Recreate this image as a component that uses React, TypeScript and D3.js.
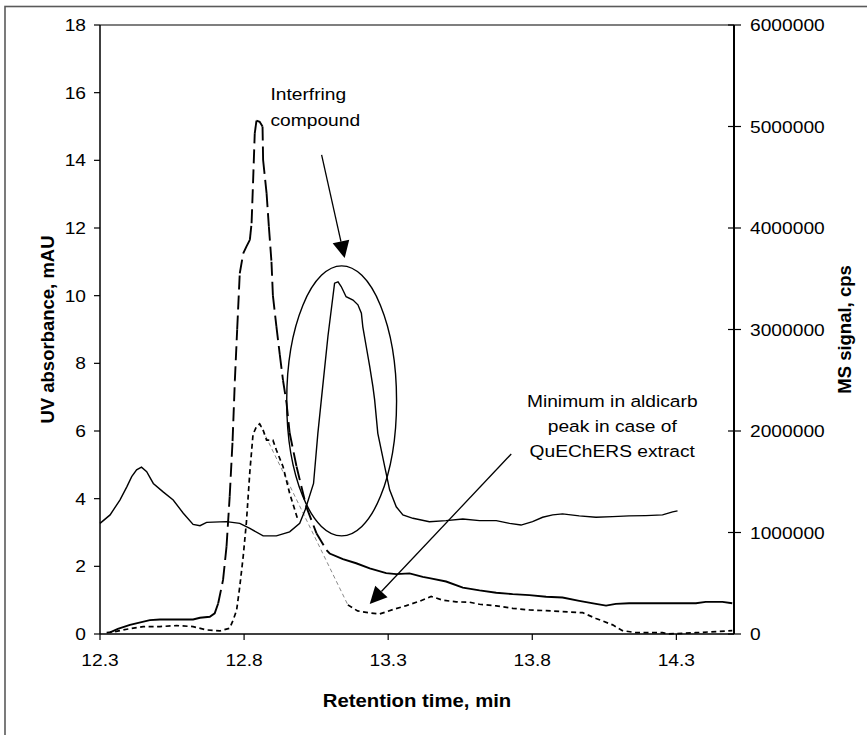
import React from 'react';
import * as d3 from 'd3';

// UV trace (left axis, mAU)
const uvTimes = [12.300, 12.335, 12.369, 12.393, 12.410, 12.427, 12.444, 12.462, 12.485, 12.519, 12.554, 12.589, 12.623, 12.647, 12.670, 12.739, 12.785, 12.820, 12.866, 12.912, 12.958, 12.993, 13.012, 13.041, 13.056, 13.068, 13.091, 13.114, 13.126, 13.137, 13.154, 13.178, 13.195, 13.207, 13.212, 13.224, 13.236, 13.247, 13.253, 13.264, 13.288, 13.305, 13.328, 13.351, 13.386, 13.443, 13.501, 13.559, 13.617, 13.675, 13.721, 13.761, 13.801, 13.836, 13.871, 13.905, 13.963, 14.021, 14.079, 14.136, 14.194, 14.252, 14.287, 14.304];
const uvValues = [3.27, 3.52, 3.96, 4.35, 4.65, 4.85, 4.93, 4.80, 4.45, 4.20, 3.96, 3.57, 3.24, 3.20, 3.30, 3.32, 3.27, 3.12, 2.90, 2.90, 3.02, 3.27, 3.67, 4.45, 5.93, 6.92, 8.80, 10.37, 10.41, 10.27, 9.97, 9.87, 9.73, 9.48, 9.08, 8.49, 7.90, 7.31, 6.92, 5.93, 4.95, 4.26, 3.76, 3.52, 3.42, 3.32, 3.35, 3.40, 3.35, 3.35, 3.27, 3.22, 3.32, 3.45, 3.52, 3.55, 3.49, 3.45, 3.47, 3.49, 3.50, 3.52, 3.61, 3.64];

// MS trace 1 (dashed, right axis, cps)
const msTimes = [12.335, 12.362, 12.404, 12.473, 12.508, 12.623, 12.647, 12.681, 12.698, 12.710, 12.727, 12.739, 12.750, 12.760, 12.768, 12.776, 12.785, 12.797, 12.808, 12.820, 12.826, 12.831, 12.837, 12.843, 12.854, 12.864, 12.866, 12.878, 12.886, 12.895, 12.900, 12.912, 12.924, 12.935, 12.947, 12.958, 12.982, 13.016, 13.051, 13.086, 13.097, 13.143, 13.189, 13.236, 13.293, 13.328, 13.374, 13.420, 13.443, 13.501, 13.559, 13.617, 13.675, 13.732, 13.790, 13.848, 13.905, 13.963, 14.021, 14.056, 14.090, 14.136, 14.252, 14.368, 14.402, 14.460, 14.494];
const msCps = [17000, 50000, 90000, 137000, 143000, 143000, 160000, 170000, 203000, 300000, 533000, 860000, 1353000, 1900000, 2500000, 3000000, 3553000, 3750000, 3817000, 3883000, 4047000, 4440000, 4933000, 5057000, 5047000, 5000000, 4670000, 4343000, 4013000, 3667000, 3333000, 3033000, 2750000, 2500000, 2283000, 1983000, 1650000, 1253000, 993000, 827000, 793000, 737000, 697000, 647000, 600000, 590000, 597000, 563000, 550000, 517000, 457000, 430000, 407000, 393000, 383000, 367000, 360000, 327000, 297000, 280000, 297000, 303000, 303000, 303000, 317000, 317000, 303000];

// MS trace 2 (dotted, right axis, cps) - NaN marks the break
const ms2Times = [12.323, 12.352, 12.393, 12.450, 12.508, 12.566, 12.623, 12.670, 12.716, 12.750, 12.762, 12.774, 12.785, 12.797, 12.808, 12.820, 12.831, 12.843, 12.854, 12.866, 12.878, 12.900, 12.912, 12.935, 12.958, 12.976, 12.987, 13.070, 13.160, 13.194, 13.236, 13.270, 13.316, 13.363, 13.409, 13.449, 13.490, 13.536, 13.582, 13.617, 13.675, 13.732, 13.790, 13.848, 13.905, 13.975, 14.021, 14.079, 14.113, 14.160, 14.252, 14.271, 14.367, 14.494];
const ms2Cps = [13000, 23000, 47000, 73000, 73000, 83000, 73000, 40000, 30000, 57000, 137000, 233000, 467000, 767000, 1100000, 1600000, 1967000, 2043000, 2070000, 2010000, 1910000, 1910000, 1813000, 1650000, 1387000, 1223000, 1123000, NaN, 287000, 227000, 207000, 197000, 240000, 280000, 323000, 370000, 333000, 317000, 313000, 293000, 277000, 253000, 237000, 230000, 220000, 210000, 153000, 90000, 33000, 13000, 13000, 0, 13000, 33000];

// faint grey trace between the dotted maximum and its minimum
const faintTimes = [12.854, 13.160];
const faintCps = [2070000, 287000];

const xTicks = [12.3, 12.8, 13.3, 13.8, 14.3];
const uvTicks = [0, 2, 4, 6, 8, 10, 12, 14, 16, 18];
const msTicks = [0, 1000000, 2000000, 3000000, 4000000, 5000000, 6000000];

const W = 867, H = 735;
const L = 100, R = 734, T = 25, B = 634;
const x = d3.scaleLinear().domain([12.3, 14.5]).range([L, R]);
const yL = d3.scaleLinear().domain([0, 18]).range([B, T]);
const yR = d3.scaleLinear().domain([0, 6000000]).range([B, T]);

const FONT = "'Liberation Sans', Arial, Helvetica, sans-serif";
const SX = 1.13;

function Txt(props: { x: number; y: number; anchor?: string; size?: number; bold?: boolean; children: React.ReactNode }) {
  const { x: px, y: py, anchor = 'start', size = 17, bold = false, children } = props;
  return (
    <text transform={`translate(${px},${py}) scale(${SX},1)`} textAnchor={anchor as any} fontSize={size}
      fontWeight={bold ? 'bold' : 'normal'} fontFamily={FONT} fill="#000">{children}</text>
  );
}

function Arrow(props: { x1: number; y1: number; x2: number; y2: number }) {
  const { x1, y1, x2, y2 } = props;
  const dx = x2 - x1, dy = y2 - y1;
  const len = Math.hypot(dx, dy);
  const ux = dx / len, uy = dy / len;
  const hl = 17, hw = 8.5;
  const bx = x2 - ux * hl, by = y2 - uy * hl;
  const pts = `${x2},${y2} ${bx - uy * hw},${by + ux * hw} ${bx + uy * hw},${by - ux * hw}`;
  return (
    <g>
      <line x1={x1} y1={y1} x2={bx} y2={by} stroke="#000" strokeWidth={1.3} />
      <polygon points={pts} fill="#000" />
    </g>
  );
}

// Build the dashed trace: gentle segments solid, steep segments dashed (pattern restarts each segment)
function dashedSegments(times: number[], vals: number[], ys: d3.ScaleLinear<number, number>) {
  const pts = times.map((t, i) => [x(t), ys(vals[i])] as [number, number]);
  const out: { d: string; dashed: boolean }[] = [];
  let run: [number, number][] = [];
  for (let i = 0; i < pts.length - 1; i++) {
    const [ax, ay] = pts[i], [bx, by] = pts[i + 1];
    const steep = Math.abs(by - ay) > 1.5 * Math.abs(bx - ax) && Math.hypot(bx - ax, by - ay) > 12;
    if (steep) {
      if (run.length > 1) out.push({ d: d3.line()(run) as string, dashed: false });
      run = [];
      out.push({ d: `M${ax},${ay}L${bx},${by}`, dashed: true });
    } else {
      if (run.length === 0) run.push([ax, ay]);
      run.push([bx, by]);
    }
  }
  if (run.length > 1) out.push({ d: d3.line()(run) as string, dashed: false });
  return out;
}

export default function App() {
  const uvLine = d3.line<number>().x((_, i) => x(uvTimes[i])).y((v) => yL(v))(uvValues) as string;
  const ms2Line = d3.line<number>().defined((v) => !isNaN(v)).x((_, i) => x(ms2Times[i])).y((v) => yR(v))(ms2Cps) as string;
  const faintLine = d3.line<number>().x((_, i) => x(faintTimes[i])).y((v) => yR(v))(faintCps) as string;
  const segs = dashedSegments(msTimes, msCps, yR);

  // annotations (data coordinates)
  const ell = { cx: x(13.1385), cy: yL(6.89), rx: x(13.1385 + 0.1906) - x(13.1385), ry: yL(6.89) - yL(6.89 + 3.99) };

  return (
    <svg width={W} height={H} viewBox={`0 0 ${W} ${H}`} style={{ position: 'absolute', left: 0, top: 0, background: '#fff' }}>
      <rect x={0} y={0} width={W} height={H} fill="#fff" />
      {/* outer frame */}
      <rect x={5} y={6.5} width={W + 40} height={H + 40} fill="none" stroke="#5a5a5a" strokeWidth={1.6} />

      {/* plot box */}
      <line x1={L} y1={T} x2={R} y2={T} stroke="#000" strokeWidth={1.2} />
      <line x1={L} y1={T} x2={L} y2={B} stroke="#000" strokeWidth={1.5} />
      <line x1={R} y1={T} x2={R} y2={B} stroke="#000" strokeWidth={2} />
      <line x1={L} y1={B} x2={R} y2={B} stroke="#000" strokeWidth={1.5} />

      {/* left axis */}
      {uvTicks.map((v) => (
        <g key={'l' + v}>
          <line x1={L - 6} x2={L} y1={yL(v)} y2={yL(v)} stroke="#000" strokeWidth={1.2} />
          <Txt x={86} y={yL(v) + 6} anchor="end">{v}</Txt>
        </g>
      ))}
      {/* right axis */}
      {msTicks.map((v) => (
        <g key={'r' + v}>
          <line x1={R - 6} x2={R + 7} y1={yR(v)} y2={yR(v)} stroke="#000" strokeWidth={1.2} />
          <Txt x={750} y={yR(v) + 6}>{String(v)}</Txt>
        </g>
      ))}
      {/* bottom axis */}
      {xTicks.map((t) => (
        <g key={'b' + t}>
          <line x1={x(t)} x2={x(t)} y1={B} y2={B + 6} stroke="#000" strokeWidth={1.2} />
          <Txt x={x(t)} y={665.5} anchor="middle">{t.toFixed(1)}</Txt>
        </g>
      ))}

      {/* axis titles */}
      <Txt x={(L + R) / 2} y={707} anchor="middle" size={18} bold>Retention time, min</Txt>
      <text transform={`translate(53.5,${(T + B) / 2}) rotate(-90)`} textAnchor="middle" fontSize={18.5} fontWeight="bold" fontFamily={FONT}>UV absorbance, mAU</text>
      <text transform={`translate(851,${(T + B) / 2}) rotate(-90)`} textAnchor="middle" fontSize={18.5} fontWeight="bold" fontFamily={FONT}>MS signal, cps</text>

      {/* traces */}
      <path d={faintLine} fill="none" stroke="#8a8a8a" strokeWidth={1} strokeDasharray="4 3" />
      <path d={ms2Line} fill="none" stroke="#000" strokeWidth={1.7} strokeDasharray="5 3.5" />
      {segs.map((s, i) => (
        <path key={'s' + i} d={s.d} fill="none" stroke="#000" strokeWidth={1.9} strokeDasharray={s.dashed ? '14 6' : undefined} />
      ))}
      <path d={uvLine} fill="none" stroke="#000" strokeWidth={1.4} />

      {/* annotations */}
      <ellipse cx={ell.cx} cy={ell.cy} rx={ell.rx} ry={ell.ry} fill="none" stroke="#000" strokeWidth={1.4} />
      <Arrow x1={x(13.069)} y1={yL(14.16)} x2={x(13.149)} y2={yL(11.11)} />
      <Arrow x1={x(13.727)} y1={yL(5.32)} x2={x(13.236)} y2={yL(0.89)} />
      <Txt x={x(12.8915)} y={yL(15.78)}>Interfring</Txt>
      <Txt x={x(12.8915)} y={yL(15.02)}>compound</Txt>
      <Txt x={x(14.0776)} y={yL(6.71)} anchor="middle">Minimum in aldicarb</Txt>
      <Txt x={x(14.0776)} y={yL(5.97)} anchor="middle">peak in case of</Txt>
      <Txt x={x(14.0776)} y={yL(5.23)} anchor="middle">QuEChERS extract</Txt>
    </svg>
  );
}
